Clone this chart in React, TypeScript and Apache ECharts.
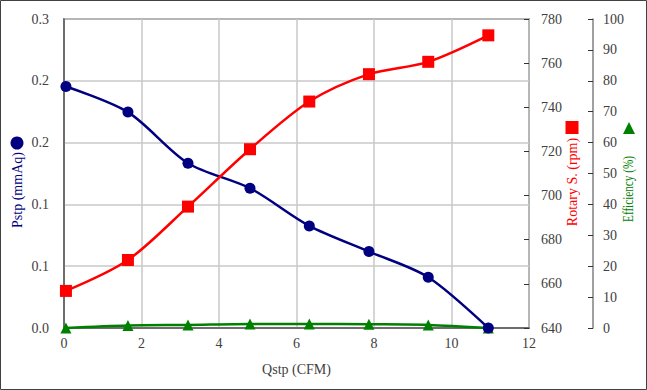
import React, { useEffect, useRef } from "react";
import * as echarts from "echarts";

const qstp = [0.05, 1.65, 3.2, 4.8, 6.33, 7.87, 9.4, 10.95];
const pstp = [0.2345, 0.2096, 0.16, 0.1357, 0.0991, 0.0742, 0.0493, 0.0];
const rotary = [656.8, 670.8, 695, 721, 742.6, 755, 760.6, 772.6];
const efficiency = [0, 0.8, 1.0, 1.3, 1.3, 1.2, 1.0, 0];

const xTicks = { min: 0, max: 12, interval: 2 };
const pTicks = { min: 0, max: 0.3, interval: 0.06 };
const rTicks = { min: 640, max: 780, interval: 20 };
const eTicks = { min: 0, max: 100, interval: 10 };

const FONT = "Liberation Serif";
const NAVY = "#000080";
const RED = "#ff0000";
const GREEN = "#008000";
const LABEL = "#404040";

export default function App() {
  const ref = useRef<HTMLDivElement>(null);
  useEffect(() => {
    document.body.style.margin = "0";
    const chart = echarts.init(ref.current!, null, { renderer: "svg" });
    const pair = (ys: number[]) => qstp.map((x, i) => [x, ys[i]]);
    const lbl = { color: LABEL, fontFamily: FONT, fontSize: 14 };
    chart.setOption({
      animation: false,
      backgroundColor: "#ffffff",
      textStyle: { fontFamily: FONT },
      grid: {
        left: 64,
        right: 118,
        top: 19,
        bottom: 62,
        show: true,
        borderColor: "#555555",
        borderWidth: 1.5,
      },
      xAxis: {
        type: "value",
        ...xTicks,
        name: "Qstp (CFM)",
        nameLocation: "middle",
        nameGap: 34,
        nameTextStyle: { ...lbl },
        axisLine: { show: true, lineStyle: { color: "#555555", width: 1.5 } },
        axisTick: { show: false },
        axisLabel: { ...lbl, margin: 8 },
        splitLine: { show: true, lineStyle: { color: "#c8c8c8", width: 1.5 } },
      },
      yAxis: [
        {
          type: "value",
          ...pTicks,
          position: "left",
          axisLine: { show: true, lineStyle: { color: "#555555", width: 1.5 } },
          axisTick: { show: false },
          axisLabel: { ...lbl, margin: 15, formatter: (v: number) => v.toFixed(1) },
          splitLine: { show: true, lineStyle: { color: "#c8c8c8", width: 1.5 } },
        },
        {
          type: "value",
          ...rTicks,
          position: "right",
          axisLine: { show: false },
          axisTick: { show: true, inside: true, length: 5, lineStyle: { color: "#333333" } },
          axisLabel: { ...lbl, margin: 12 },
          splitLine: { show: false },
        },
        {
          type: "value",
          ...eTicks,
          position: "right",
          offset: 64,
          axisLine: { show: true, lineStyle: { color: "#808080", width: 1.5 } },
          axisTick: { show: true, inside: true, length: 5, lineStyle: { color: "#333333" } },
          axisLabel: { ...lbl, margin: 10 },
          splitLine: { show: false },
        },
      ],
      series: [
        {
          type: "line",
          name: "Pstp",
          yAxisIndex: 0,
          data: pair(pstp),
          smooth: 0.3,
          symbol: "circle",
          symbolSize: 11,
          lineStyle: { color: NAVY, width: 2.5 },
          itemStyle: { color: NAVY },
        },
        {
          type: "line",
          name: "Rotary",
          yAxisIndex: 1,
          data: pair(rotary),
          smooth: 0.3,
          symbol: "rect",
          symbolSize: 12,
          lineStyle: { color: RED, width: 2.5 },
          itemStyle: { color: RED },
        },
        {
          type: "line",
          name: "Efficiency",
          yAxisIndex: 2,
          data: pair(efficiency),
          smooth: 0.3,
          symbol: "triangle",
          symbolSize: 11,
          lineStyle: { color: GREEN, width: 2.5 },
          itemStyle: { color: GREEN },
          z: 1,
        },
      ],
      graphic: [
        {
          type: "rect",
          shape: { x: 0.5, y: 0.5, width: 646, height: 389 },
          style: { fill: "none", stroke: "#404040", lineWidth: 1 },
          silent: true,
        },
        {
          type: "circle",
          shape: { cx: 17, cy: 143, r: 6.5 },
          style: { fill: NAVY },
        },
        {
          type: "text",
          x: 17,
          y: 190,
          rotation: Math.PI / 2,
          style: {
            text: "Pstp (mmAq)",
            fill: NAVY,
            font: `14px ${FONT}`,
            align: "center",
            verticalAlign: "middle",
          },
        },
        {
          type: "rect",
          shape: { x: 565.5, y: 121, width: 13, height: 13 },
          style: { fill: RED },
        },
        {
          type: "text",
          x: 572,
          y: 182,
          rotation: Math.PI / 2,
          style: {
            text: "Rotary S. (rpm)",
            fill: RED,
            font: `14px ${FONT}`,
            align: "center",
            verticalAlign: "middle",
          },
        },
        {
          type: "polygon",
          shape: { points: [[629, 122], [635, 134], [623, 134]] },
          style: { fill: GREEN },
        },
        {
          type: "text",
          x: 629,
          y: 189,
          rotation: Math.PI / 2,
          scaleX: 0.8,
          style: {
            text: "Efficiency (%)",
            fill: GREEN,
            font: `14px ${FONT}`,
            align: "center",
            verticalAlign: "middle",
          },
        },
      ],
    });
    return () => chart.dispose();
  }, []);
  return <div ref={ref} style={{ width: 647, height: 390 }} />;
}
